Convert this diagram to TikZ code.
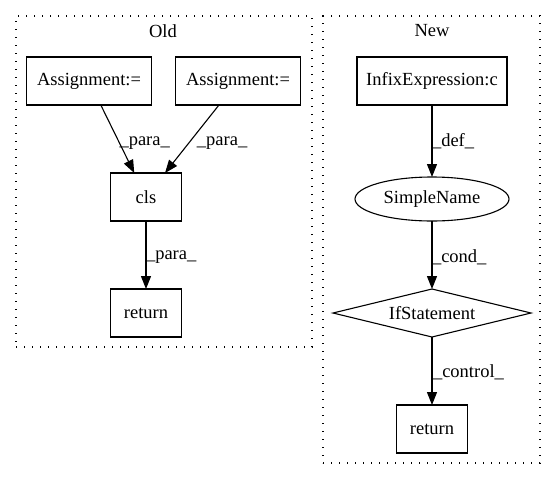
\documentclass[tikz,border=0pt]{standalone}
\usepackage{fontspec}
\setmainfont{Liberation Serif}
\usetikzlibrary{arrows.meta,shapes.geometric}
\begin{document}
\begin{tikzpicture}[x=1pt,y=-1pt,
  font=\fontsize{18.5}{21}\selectfont,
  every node/.style={inner sep=0pt, outer sep=0pt},
  cluster/.style={draw, line width=1.1pt, dash pattern=on 1.4pt off 6.6pt},
  box/.style={draw, line width=1.1pt, rectangle, minimum height=48pt},
  oval/.style={draw, line width=1.1pt, ellipse, minimum width=154pt, minimum height=44pt},
  dia/.style={draw, line width=1.1pt, diamond, aspect=4, minimum width=198pt, minimum height=48pt},
  edge/.style={draw, line width=1.1pt, -{Triangle[length=13pt,width=10pt]}},
  lbl/.style={anchor=west, inner sep=0pt}
]
\useasboundingbox (0,0) rectangle (557,480);
% clusters
\node[cluster, minimum width=296pt, minimum height=331pt] (oldc) at (164,181.5) {};
\node (oldt) at (163,31) {Old};
\node[cluster, minimum width=217pt, minimum height=447pt] (newc) at (431.5,239.5) {};
\node (newt) at (432,31) {New};
% old nodes
\node[box, minimum width=125pt] (a1) at (89,81) {Assignment:=};
\node[box, minimum width=125pt] (a2) at (238,81) {Assignment:=};
\node[box, minimum width=71pt] (cls) at (146,197) {cls};
\node[box, minimum width=71pt] (ret1) at (146,313) {return};
% new nodes
\node[box, minimum width=150pt] (inf) at (432,81) {InfixExpression:c};
\node[oval] (sn) at (432,199) {SimpleName};
\node[dia] (ifs) at (432,313) {IfStatement};
\node[box, minimum width=71pt] (ret2) at (432,429) {return};
% edges
\draw[edge] (a1) -- (cls) node[lbl, pos=0.5, xshift=2pt, yshift=-4pt] {\_para\_};
\draw[edge] (a2) -- (cls) node[lbl, pos=0.5, xshift=5pt, yshift=-4pt] {\_para\_};
\draw[edge] (cls) -- (ret1) node[lbl, pos=0.5, xshift=0pt, yshift=-2pt] {\_para\_};
\draw[edge] (inf) -- (sn) node[lbl, pos=0.5, xshift=0pt] {\_def\_};
\draw[edge] (sn) -- (ifs) node[lbl, pos=0.5, xshift=0pt, yshift=-2pt] {\_cond\_};
\draw[edge] (ifs) -- (ret2) node[lbl, pos=0.5, xshift=1pt, yshift=-1pt] {\_control\_};
\end{tikzpicture}
\end{document}
